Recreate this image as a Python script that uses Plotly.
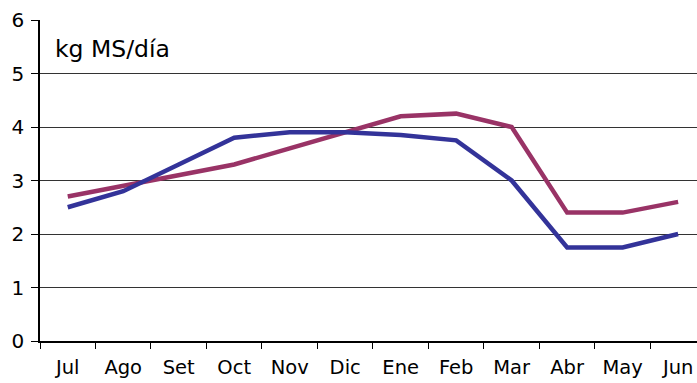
import plotly.graph_objects as go

# Monthly dry-matter intake, kg MS/día
months = ["Jul", "Ago", "Set", "Oct", "Nov", "Dic", "Ene", "Feb", "Mar", "Abr", "May", "Jun"]
serie_azul = [2.5, 2.8, 3.3, 3.8, 3.9, 3.9, 3.85, 3.75, 3.0, 1.75, 1.75, 2.0]
serie_bordo = [2.7, 2.9, 3.1, 3.3, 3.6, 3.9, 4.2, 4.25, 4.0, 2.4, 2.4, 2.6]
y_ticks = [0, 1, 2, 3, 4, 5, 6]

FONT = "DejaVu Sans, Arial, sans-serif"

fig = go.Figure()
fig.add_trace(go.Scatter(x=months, y=serie_bordo, mode="lines",
                         line=dict(color="#993366", width=4.5), showlegend=False))
fig.add_trace(go.Scatter(x=months, y=serie_azul, mode="lines",
                         line=dict(color="#333399", width=4.5), showlegend=False))

fig.update_layout(
    width=697, height=383,
    margin=dict(l=40, r=0, t=20, b=42),
    plot_bgcolor="white", paper_bgcolor="white",
    font=dict(family=FONT, size=20, color="black"),
    xaxis=dict(
        type="category", range=[-0.5, 11.34],
        tickson="boundaries", ticks="outside", ticklen=6, tickcolor="black",
        showline=True, linecolor="black", linewidth=1.5,
        showgrid=False, zeroline=False, automargin=False,
        ticklabelstandoff=8,
        tickfont=dict(size=19.5),
    ),
    yaxis=dict(
        range=[0, 6], tickvals=y_ticks,
        ticks="outside", ticklen=7, tickcolor="black",
        showline=True, linecolor="black", linewidth=1.5,
        showgrid=True, gridcolor="#333333", gridwidth=1,
        zeroline=False, automargin=False,
        ticklabelstandoff=3,
        tickfont=dict(size=20),
    ),
    annotations=[dict(
        text="kg MS/día", xref="paper", yref="paper",
        x=13 / 657, y=(341 - 49) / 321, xanchor="left", yanchor="middle",
        showarrow=False, font=dict(family=FONT, size=23.5, color="black"),
    )],
)

fig.write_html("out.html")
